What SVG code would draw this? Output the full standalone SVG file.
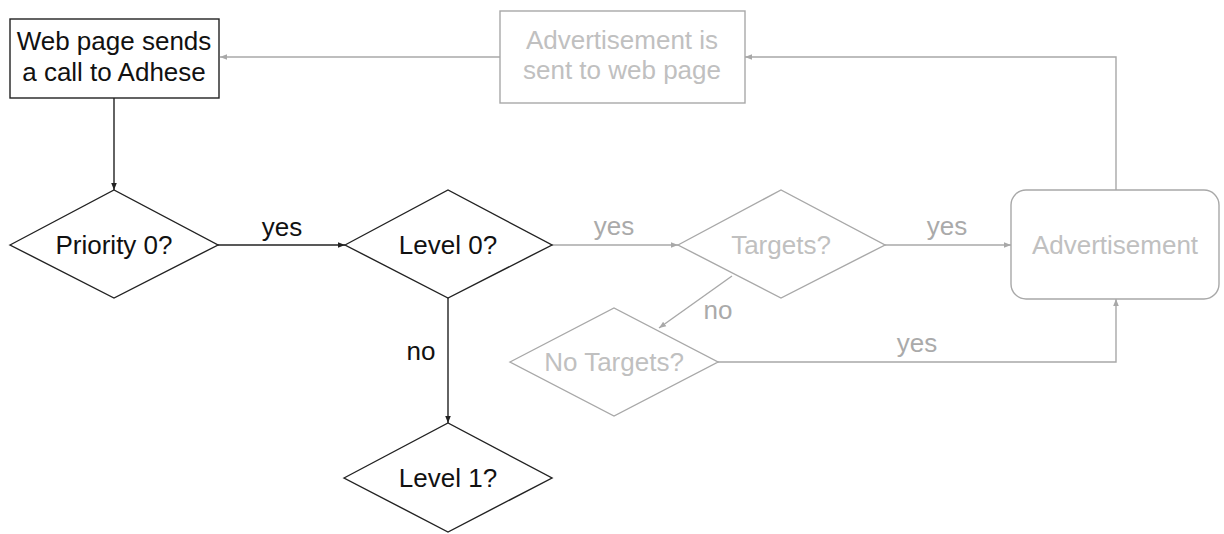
<svg xmlns="http://www.w3.org/2000/svg" width="1224" height="534" viewBox="0 0 1224 534">
<style>
text{font-family:"Liberation Sans",Arial,sans-serif;font-size:26px;text-anchor:middle}
.dk{fill:#fff;stroke:#222;stroke-width:1.4}
.lt{fill:#fff;stroke:#a8a8a8;stroke-width:1.4}
.tdk{fill:#111}
.tlt{fill:#c0c0c0}
.lbl{fill:#aaaaaa}
.cdk{fill:none;stroke:#222;stroke-width:1.4}
.clt{fill:none;stroke:#a8a8a8;stroke-width:1.4}
</style>
<defs>
<marker id="ad" viewBox="0 0 10 10" refX="10" refY="5" markerWidth="7" markerHeight="7" markerUnits="userSpaceOnUse" orient="auto"><path d="M0,1 L10,5 L0,9 z" fill="#222"/></marker>
<marker id="al" viewBox="0 0 10 10" refX="10" refY="5" markerWidth="7" markerHeight="7" markerUnits="userSpaceOnUse" orient="auto"><path d="M0,1 L10,5 L0,9 z" fill="#a8a8a8"/></marker>
</defs>
<rect width="1224" height="534" fill="#fff"/>
<g id="connectors">
<path class="cdk" d="M114,98 V190" marker-end="url(#ad)"/>
<path class="cdk" d="M218,245 H345" marker-end="url(#ad)"/>
<path class="cdk" d="M448,298 V423" marker-end="url(#ad)"/>
<path class="clt" d="M552,245 H678" marker-end="url(#al)"/>
<path class="clt" d="M885,245 H1011" marker-end="url(#al)"/>
<path class="clt" d="M732,276 L659,328" marker-end="url(#al)"/>
<path class="clt" d="M718,362 H1116 V299" marker-end="url(#al)"/>
<path class="clt" d="M1116,190 V57 H745" marker-end="url(#al)"/>
<path class="clt" d="M500,57 H220" marker-end="url(#al)"/>
<text class="tdk" x="282" y="236">yes</text>
<text class="tdk" x="421" y="360">no</text>
<text class="lbl" x="614" y="235">yes</text>
<text class="lbl" x="947" y="235">yes</text>
<text class="lbl" x="718" y="319">no</text>
<text class="lbl" x="917" y="352">yes</text>
</g>
<g id="web-page">
<rect class="dk" x="10" y="19" width="209" height="79"/>
<text class="tdk" x="114" y="50">Web page sends</text>
<text class="tdk" x="114" y="81">a call to Adhese</text>
</g>
<g id="priority0">
<path class="dk" d="M10,245 L114,190 L218,245 L114,298 z"/>
<text class="tdk" x="114" y="254">Priority 0?</text>
</g>
<g id="level0">
<path class="dk" d="M345,245 L448,190 L552,245 L448,298 z"/>
<text class="tdk" x="448" y="254">Level 0?</text>
</g>
<g id="level1">
<path class="dk" d="M344,478 L448,423 L552,478 L448,532 z"/>
<text class="tdk" x="448" y="487">Level 1?</text>
</g>
<g id="targets">
<path class="lt" d="M678,245 L781,190 L885,245 L781,298 z"/>
<text class="tlt" x="781" y="254">Targets?</text>
</g>
<g id="no-targets">
<path class="lt" d="M510,362 L614,308 L718,362 L614,416 z"/>
<text class="tlt" x="614" y="371">No Targets?</text>
</g>
<g id="advertisement">
<rect class="lt" x="1011" y="190" width="208" height="109" rx="15"/>
<text class="tlt" x="1115" y="254">Advertisement</text>
</g>
<g id="ad-sent">
<rect class="lt" x="500" y="11" width="245" height="92"/>
<text class="tlt" x="622" y="49">Advertisement is</text>
<text class="tlt" x="622" y="79">sent to web page</text>
</g>
</svg>
